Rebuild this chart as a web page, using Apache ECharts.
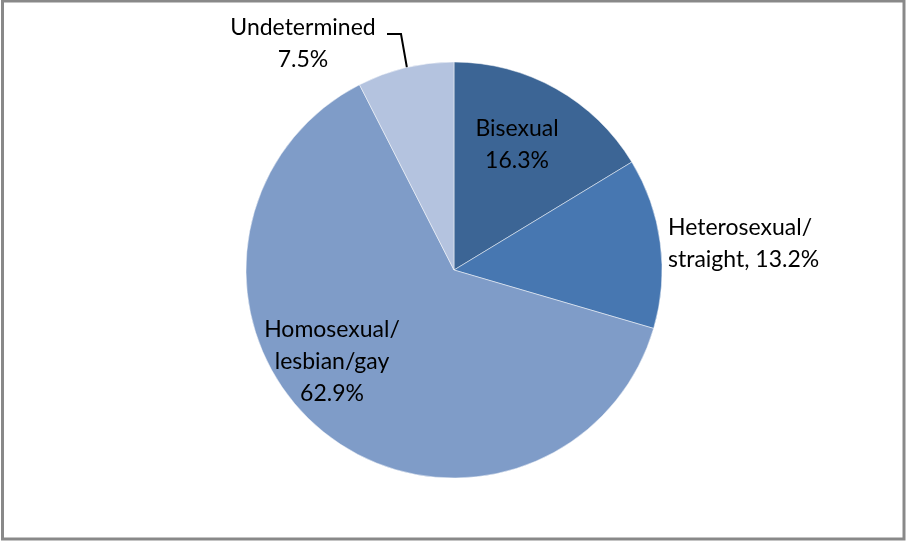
<!DOCTYPE html>
<html>
<head>
<meta charset="utf-8">
<script src="https://cdn.jsdelivr.net/npm/echarts@6/dist/echarts.min.js"></script>
<style>
  html, body { margin: 0; padding: 0; background: #fff; }
  #chart { width: 906px; height: 541px; }
</style>
</head>
<body>
<div id="chart"></div>
<script>
  // slices, clockwise from 12 o'clock
  var categories = ['Bisexual', 'Heterosexual/\nstraight', 'Homosexual/\nlesbian/gay', 'Undetermined']
  var values = [16.3, 13.2, 62.9, 7.5]
  var colors = ['#3c6595', '#4777b1', '#7f9cc8', '#b4c3df']

  // label placement per slice (style only)
  var labelPos = [
    { x: 517, y: 145, align: 'center' },
    { x: 668, y: 244, align: 'left' },
    { x: 332, y: 362, align: 'center' },
    { x: 303, y: 44, align: 'center' }
  ]

  var pieData = categories.map(function (name, i) {
    var item = {
      name: name,
      value: values[i],
      itemStyle: { color: colors[i] }
    }
    if (i === 1) {
      item.label = { position: 'outside', formatter: 'Heterosexual/\nstraight, {c}%' }
    }
    if (i === 3) {
      item.label = { position: 'outside' }
      item.labelLine = { show: true, lineStyle: { color: '#000', width: 2 } }
    }
    return item
  })

  var chart = echarts.init(document.getElementById('chart'))
  chart.setOption({
    backgroundColor: '#fff',
    animation: false,
    graphic: [{
      type: 'rect',
      shape: { x: 2.5, y: 1, width: 901.5, height: 538 },
      style: { fill: 'none', stroke: '#898989', lineWidth: 3 }
    }],
    series: [{
      type: 'pie',
      center: [454, 270],
      radius: [0, 208],
      startAngle: 90,
      clockwise: true,
      data: pieData,
      itemStyle: { borderColor: 'rgba(255,255,255,0.6)', borderWidth: 0.8 },
      label: {
        show: true,
        position: 'inside',
        formatter: '{b}\n{c}%',
        color: '#000',
        fontFamily: 'Lato',
        fontSize: 23,
        lineHeight: 32,
        align: 'center'
      },
      labelLine: { show: false },
      labelLayout: function (params) {
        var p = labelPos[params.dataIndex]
        var res = { x: p.x, y: p.y, align: p.align, verticalAlign: 'middle' }
        if (params.dataIndex === 3) {
          res.labelLinePoints = [[387, 34], [401, 34], [407, 68]]
        }
        return res
      }
    }]
  })
</script>
</body>
</html>
